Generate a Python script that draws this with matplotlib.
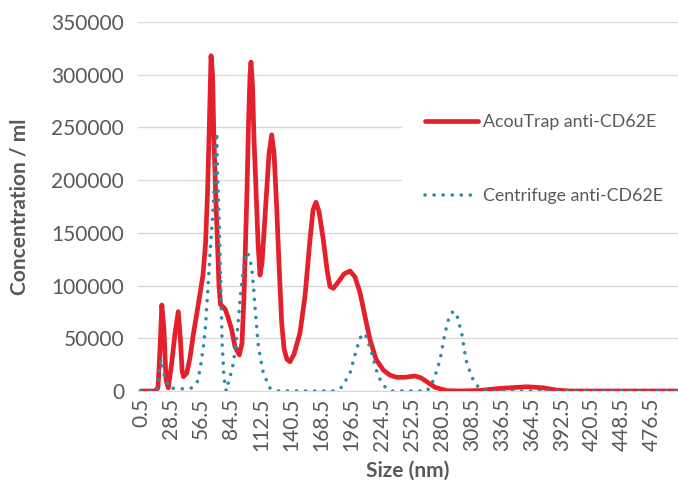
import numpy as np
import matplotlib
matplotlib.use('Agg')
import matplotlib.pyplot as plt

# size (nm) and concentration (/ml)
acou_size = [0.5, 13.6, 16.3, 18.2, 19.9, 21.9, 23.8, 25.9, 29.1, 32.2, 35.2, 37.1, 38.7, 40.0,
             43.1, 46.1, 49.4, 52.7, 55.4, 58.2, 60.6, 62.5, 64.3, 65.7, 67.1, 68.4, 69.9, 71.6,
             73.1, 74.5, 78.7, 81.5, 85.0, 88.0, 92.0, 94.5, 96.4, 97.8, 99.2, 100.5, 102.0,
             102.9, 104.3, 105.7, 107.6, 109.5, 111.3, 113.2, 115.0, 117.5, 119.7, 122.2, 124.4,
             126.8, 129.0, 131.5, 133.7, 136.4, 139.2, 143.0, 148.5, 153.2, 157.8, 160.7, 163.4,
             166.3, 170.3, 173.7, 176.5, 179.6, 183.9, 189.5, 195.1, 199.8, 204.5, 209.2, 213.8,
             219.4, 226.1, 232.3, 238.5, 246.3, 255.6, 261.2, 266.6, 274.2, 285.2, 297.5, 316.0,
             335.0, 360.0, 375.0, 388.0, 400.0, 499.5]
acou_conc = [0, 0, 3000, 40000, 81600, 57900, 10400, 3000, 26500, 55000, 75200, 50000, 20000, 13600,
             17000, 31300, 55000, 75000, 92000, 110000, 140000, 190000, 260000, 318000, 300000, 238000,
             190000, 143000, 100000, 82000, 78000, 70000, 57900, 42000, 34200, 45000, 90000, 140000,
             190000, 250000, 300000, 312000, 290000, 240000, 190000, 140000, 110000, 122000, 150000,
             190000, 225000, 243000, 225000, 175000, 120000, 64500, 40000, 30000, 27800, 35000, 55000,
             90000, 143000, 172000, 179000, 170000, 143000, 115000, 99000, 97400, 103000, 111000,
             113800, 108000, 93000, 70000, 48400, 30000, 19900, 15000, 13000, 13000, 14200, 12500,
             8800, 3500, 300, 0, 500, 2500, 4000, 3000, 800, 0, 0]

cent_size = [0.5, 15.2, 16.6, 18.2, 19.2, 20.3, 22.2, 24.5, 26.8, 32.2, 41.5, 48.0, 53.0, 55.4,
             58.6, 60.6, 62.0, 64.7, 67.8, 69.4, 71.0, 71.7, 73.1, 74.2, 75.1, 76.0, 77.6, 79.0,
             80.1, 81.9, 84.3, 86.2, 88.0, 90.3, 92.2, 94.0, 96.4, 99.4, 102.0, 103.6, 105.3,
             106.6, 109.8, 114.4, 120.6, 128.1, 179.3, 187.3, 195.1, 201.4, 205.4, 209.1, 211.8,
             215.3, 221.4, 227.7, 233.9, 266.6, 270.5, 274.2, 278.9, 283.5, 287.3, 291.2, 295.1,
             299.1, 303.1, 308.4, 312.4, 316.1, 323.6, 499.5]
cent_conc = [0, 0, 12000, 24700, 30000, 26000, 15000, 8800, 2800, 2500, 2000, 3000, 9000, 20000,
             42000, 62000, 85000, 129000, 176500, 212800, 245000, 206000, 165000, 125000, 86000,
             46000, 15000, 2500, 0, 8800, 16800, 25000, 38000, 58000, 80000, 100000, 120000, 132000,
             125000, 116000, 98000, 80000, 42000, 16800, 2800, 0, 0, 3500, 16800, 40500, 52000,
             54700, 47000, 35800, 13600, 4000, 0, 0, 5000, 14200, 29400, 54700, 70000, 75900, 70000,
             54700, 29400, 13600, 6000, 2500, 0, 0]

x_ticks = np.arange(0.5, 477, 28)
y_ticks = np.arange(0, 350001, 50000)

grey = '#595959'
plt.rcParams['font.family'] = ['Lato', 'DejaVu Sans']

fig = plt.figure(figsize=(6.78, 4.84), dpi=100)
ax = fig.add_axes([138 / 678, 93 / 484, 540 / 678, 369 / 484])

ax.plot(acou_size, acou_conc, color='#E4202C', lw=3.4, solid_joinstyle='round',
        solid_capstyle='round', label='AcouTrap anti-CD62E', zorder=3)
ax.plot(cent_size, cent_conc, color='#2E8BA2', lw=2.6, linestyle=(0, (0.01, 2.5)),
        dash_capstyle='round', label='Centrifuge anti-CD62E', zorder=4)

ax.set_xlim(-2.3, 500.5)
ax.set_ylim(0, 350000)
ax.set_xticks(x_ticks)
ax.set_xticklabels([f'{v:.1f}' for v in x_ticks], rotation=90)
ax.set_yticks(y_ticks)
ax.set_yticklabels([str(v) for v in y_ticks])
ax.tick_params(axis='both', length=0, labelsize=15, colors=grey)
ax.tick_params(axis='y', pad=10)
ax.tick_params(axis='x', pad=5)

ax.grid(axis='y', color='#D9D9D9', lw=1)
ax.set_axisbelow(True)
for s in ['left', 'right', 'top']:
    ax.spines[s].set_visible(False)
ax.spines['bottom'].set_color('#D9D9D9')

ax.set_ylabel('Concentration / ml', fontsize=15, fontweight='bold', color=grey)
ax.yaxis.set_label_coords(-0.2, 0.5)
ax.set_xlabel('Size (nm)', fontsize=15, fontweight='bold', color=grey)
ax.xaxis.set_label_coords(0.5, -0.19)

leg = ax.legend(loc='upper left', bbox_to_anchor=(402 / 678, 1 - 91 / 484),
                bbox_transform=fig.transFigure, frameon=True, facecolor='white',
                edgecolor='none', framealpha=1, fancybox=False, fontsize=12.8,
                handlelength=2.95, handletextpad=0.3, labelspacing=3.25, borderpad=1.3,
                borderaxespad=0)
for t in leg.get_texts():
    t.set_color(grey)

fig.savefig('out.png', dpi=100)
